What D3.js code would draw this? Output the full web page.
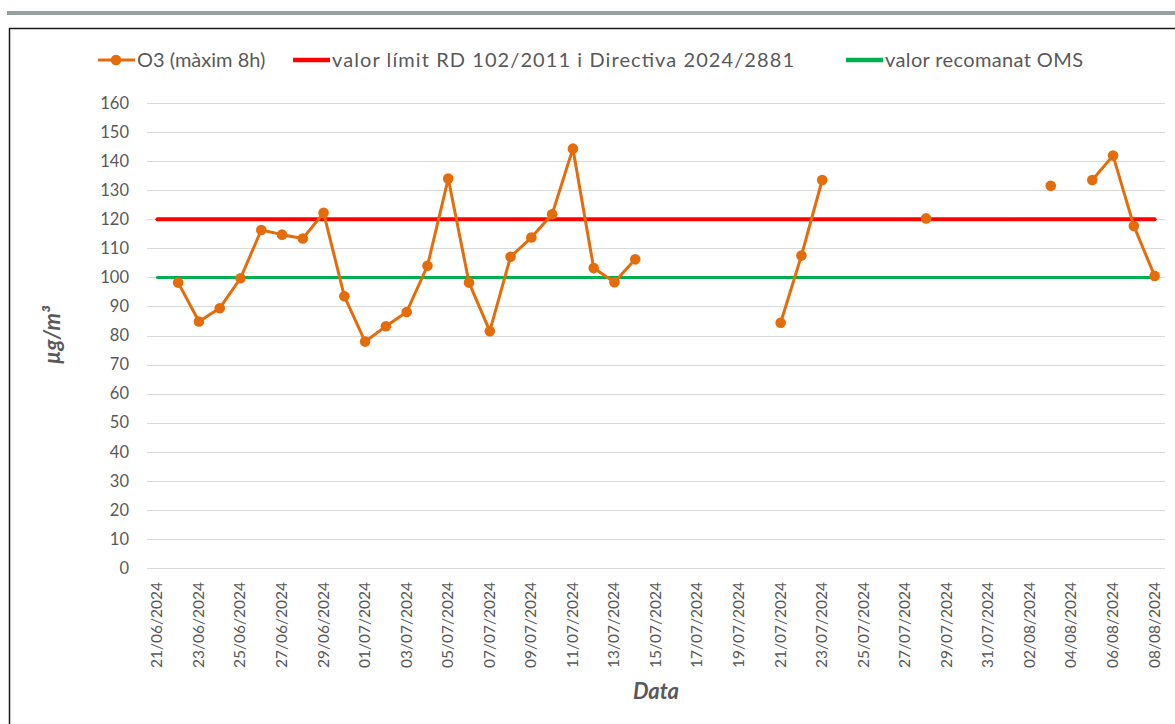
<!DOCTYPE html>
<html lang="ca">
<head>
<meta charset="UTF-8">
<script src="https://cdnjs.cloudflare.com/ajax/libs/d3/7.8.5/d3.min.js"></script>
<title>O3</title>
<style>
  body { margin: 0; background: #fff; }
  text { font-family: Lato, "Open Sans", sans-serif; fill: #595959; }
</style>
</head>
<body>
<div id="chart"></div>
<script>
/* categories: one per day, 21/06/2024 - 08/08/2024 */
var dates = [
  "21/06/2024","22/06/2024","23/06/2024","24/06/2024","25/06/2024","26/06/2024","27/06/2024",
  "28/06/2024","29/06/2024","30/06/2024","01/07/2024","02/07/2024","03/07/2024","04/07/2024",
  "05/07/2024","06/07/2024","07/07/2024","08/07/2024","09/07/2024","10/07/2024","11/07/2024",
  "12/07/2024","13/07/2024","14/07/2024","15/07/2024","16/07/2024","17/07/2024","18/07/2024",
  "19/07/2024","20/07/2024","21/07/2024","22/07/2024","23/07/2024","24/07/2024","25/07/2024",
  "26/07/2024","27/07/2024","28/07/2024","29/07/2024","30/07/2024","31/07/2024","01/08/2024",
  "02/08/2024","03/08/2024","04/08/2024","05/08/2024","06/08/2024","07/08/2024","08/08/2024"
];
/* O3 max 8h, null = no data */
var o3 = [
  null, 98.2, 84.8, 89.4, 99.7, 116.3, 114.7,
  113.4, 122.2, 93.5, 77.9, 83.2, 88.1, 104.0,
  134.0, 98.2, 81.5, 107.1, 113.7, 121.7, 144.3,
  103.2, 98.3, 106.2, null, null, null, null,
  null, null, 84.4, 107.5, 133.5, null, null,
  null, null, 120.3, null, null, null, null,
  null, 131.5, null, 133.5, 141.9, 117.7, 100.5
];
var limitValue = 120;   // RD 102/2011 i Directiva 2024/2881
var whoValue = 100;     // OMS
var yTicks = [0,10,20,30,40,50,60,70,80,90,100,110,120,130,140,150,160];
var tickDates = dates.filter(function(d, i) { return i % 2 === 0; });

/* legend layout: x of the key line, width of the label (null = natural) */
var legendItems = [
  {label: "O3 (màxim 8h)", color: "#E46C0A", marker: true, x: 98, tw: null},
  {label: "valor límit RD 102/2011 i Directiva 2024/2881", color: "#FF0000", marker: false, x: 293, tw: 462},
  {label: "valor recomanat OMS", color: "#00B050", marker: false, x: 846, tw: 198}
];

var W = 1175, H = 724;
var pLeft = 147, pRight = 1165, pTop = 103, pBottom = 568;

var svg = d3.select("#chart").append("svg")
  .attr("width", W).attr("height", H);

/* top grey strip and chart frame */
svg.append("rect").attr("x", 7).attr("y", 11).attr("width", W - 7).attr("height", 4)
  .attr("fill", "#95A0A0");
svg.append("rect").attr("x", 9.5).attr("y", 28.5).attr("width", W).attr("height", H)
  .attr("fill", "none").attr("stroke", "#1a1a1a").attr("stroke-width", 1.5);

var x = d3.scalePoint().domain(dates).range([pLeft, pRight]).padding(0.5);
var y = d3.scaleLinear().domain([0, 160]).range([pBottom, pTop]);

/* gridlines */
svg.append("g").selectAll("line").data(yTicks).enter().append("line")
  .attr("x1", pLeft).attr("x2", pRight)
  .attr("y1", function(d) { return Math.round(y(d)) + 0.5; })
  .attr("y2", function(d) { return Math.round(y(d)) + 0.5; })
  .attr("stroke", "#D9D9D9").attr("stroke-width", 1.2);

/* y axis labels */
var yAxis = d3.axisLeft(y).tickValues(yTicks).tickSize(0).tickPadding(0);
var gy = svg.append("g").attr("transform", "translate(" + 129 + ",0)").call(yAxis);
gy.select(".domain").remove();
gy.selectAll("text").attr("font-size", "16.5px").attr("fill", "#595959")
  .style("font-family", "Lato, sans-serif");

/* x axis labels */
var xAxis = d3.axisBottom(x).tickValues(tickDates).tickSize(0).tickPadding(0);
var gx = svg.append("g").attr("transform", "translate(0," + pBottom + ")").call(xAxis);
gx.select(".domain").remove();
gx.selectAll("text")
  .attr("font-size", "15.5px").attr("fill", "#595959")
  .style("font-family", "Lato, sans-serif")
  .attr("text-anchor", "end")
  .attr("transform", "translate(-1,14) rotate(-90)")
  .attr("x", 0).attr("y", 0).attr("dy", "0.35em");

/* reference lines */
svg.append("line")
  .attr("x1", x(dates[0])).attr("x2", x(dates[dates.length - 1]))
  .attr("y1", y(whoValue)).attr("y2", y(whoValue))
  .attr("stroke", "#00B050").attr("stroke-width", 3).attr("stroke-linecap", "round");
svg.append("line")
  .attr("x1", x(dates[0])).attr("x2", x(dates[dates.length - 1]))
  .attr("y1", y(limitValue)).attr("y2", y(limitValue))
  .attr("stroke", "#FF0000").attr("stroke-width", 4).attr("stroke-linecap", "round");

/* O3 series */
var series = dates.map(function(d, i) { return {date: d, value: o3[i]}; });
var line = d3.line()
  .defined(function(d) { return d.value !== null; })
  .x(function(d) { return x(d.date); })
  .y(function(d) { return y(d.value); });
svg.append("path").datum(series)
  .attr("d", line).attr("fill", "none")
  .attr("stroke", "#E46C0A").attr("stroke-width", 3).attr("stroke-linejoin", "round");
svg.append("g").selectAll("circle")
  .data(series.filter(function(d) { return d.value !== null; }))
  .enter().append("circle")
  .attr("cx", function(d) { return x(d.date); })
  .attr("cy", function(d) { return y(d.value); })
  .attr("r", 5.3).attr("fill", "#E46C0A");

/* axis titles */
svg.append("text")
  .attr("transform", "translate(60,335) rotate(-90)")
  .attr("text-anchor", "middle")
  .attr("font-size", "22px").attr("font-weight", "bold").attr("font-style", "italic")
  .text("µg/m³");
svg.append("text")
  .attr("x", 656).attr("y", 699)
  .attr("text-anchor", "middle")
  .attr("font-size", "22px").attr("font-weight", "bold").attr("font-style", "italic")
  .text("Data");

/* legend */
var lg = svg.append("g").selectAll("g").data(legendItems).enter().append("g")
  .attr("transform", function(d) { return "translate(" + d.x + ",60)"; });
lg.append("line").attr("x1", 0).attr("x2", 37).attr("y1", 0).attr("y2", 0)
  .attr("stroke", function(d) { return d.color; })
  .attr("stroke-width", function(d) { return d.marker ? 3 : 4.5; });
lg.filter(function(d) { return d.marker; }).append("circle")
  .attr("cx", 18).attr("cy", 0).attr("r", 5.3).attr("fill", function(d) { return d.color; });
var lt = lg.append("text").attr("x", 39).attr("y", 0).attr("dy", "0.35em")
  .attr("font-size", "20px")
  .text(function(d) { return d.label; });
lt.filter(function(d) { return d.tw !== null; })
  .attr("textLength", function(d) { return d.tw; })
  .attr("lengthAdjust", "spacing");
</script>
</body>
</html>
